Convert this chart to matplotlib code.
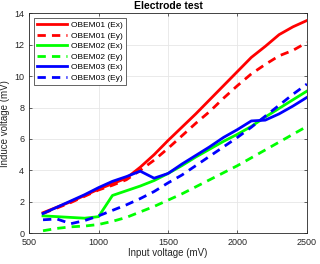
import matplotlib.pyplot as plt
import numpy as np

input_mv = [600, 700, 800, 900, 1000, 1100, 1200, 1300, 1400, 1500,
            1600, 1700, 1800, 1900, 2000, 2100, 2200, 2300, 2400, 2500]

obem01_ex = [1.3, 1.65, 2.0, 2.4, 2.8, 3.15, 3.5, 4.2, 5.0, 5.9,
             6.75, 7.6, 8.5, 9.4, 10.3, 11.2, 11.9, 12.65, 13.15, 13.55]
obem01_ey = [1.25, 1.6, 1.95, 2.35, 2.75, 3.05, 3.4, 4.0, 4.65, 5.4,
             6.2, 7.0, 7.75, 8.6, 9.4, 10.15, 10.75, 11.3, 11.65, 12.15]
obem02_ex = [1.1, 1.05, 1.0, 0.95, 1.05, 2.4, 2.7, 3.0, 3.35, 3.8,
             4.3, 4.85, 5.35, 5.85, 6.3, 6.8, 7.4, 7.95, 8.5, 9.05]
obem02_ey = [0.15, 0.3, 0.4, 0.45, 0.55, 0.75, 1.0, 1.35, 1.7, 2.1,
             2.5, 2.95, 3.4, 3.85, 4.3, 4.8, 5.3, 5.8, 6.3, 6.8]
obem03_ex = [1.25, 1.65, 2.05, 2.45, 2.9, 3.3, 3.6, 3.95, 3.5, 3.8,
             4.4, 4.95, 5.5, 6.1, 6.6, 7.15, 7.2, 7.6, 8.1, 8.65]
obem03_ey = [0.85, 0.9, 0.6, 0.8, 1.1, 1.45, 1.8, 2.2, 2.65, 3.2,
             3.7, 4.3, 4.9, 5.5, 6.1, 6.75, 7.45, 8.15, 8.85, 9.5]

plt.rcParams['font.family'] = ['Liberation Sans', 'DejaVu Sans']

fig = plt.figure(figsize=(3.2, 2.64), dpi=100)
ax = fig.add_axes([0.091, 0.117, 0.868, 0.832])

lw = 2.0
dash = (0, (3, 2.2))
ax.plot(input_mv, obem01_ex, color='#ff0000', lw=lw, label='OBEM01 (Ex)')
ax.plot(input_mv, obem01_ey, color='#ff0000', lw=lw, ls=dash, label='OBEM01 (Ey)')
ax.plot(input_mv, obem02_ex, color='#00ff00', lw=lw, label='OBEM02 (Ex)')
ax.plot(input_mv, obem02_ey, color='#00ff00', lw=lw, ls=dash, label='OBEM02 (Ey)')
ax.plot(input_mv, obem03_ex, color='#0000ff', lw=lw, label='OBEM03 (Ex)')
ax.plot(input_mv, obem03_ey, color='#0000ff', lw=lw, ls=dash, label='OBEM03 (Ey)')

ax.set_xlim(500, 2500)
ax.set_ylim(0, 14)
ax.set_xticks([500, 1000, 1500, 2000, 2500])
ax.set_yticks(np.arange(0, 15, 2))
ax.grid(True, color='#e6e6e6', lw=0.6)
ax.set_axisbelow(True)
ax.tick_params(direction='in', labelsize=6.5, colors='#262626', length=2.5, width=0.5,
               top=True, right=True)
for s in ax.spines.values():
    s.set_color('#262626')
    s.set_linewidth(0.6)

ax.set_title('Electrode test', fontsize=7.5, fontweight='bold', pad=3)
ax.set_xlabel('Input voltage (mV)', fontsize=7, color='#262626', labelpad=1)
ax.set_ylabel('Induce voltage (mV)', fontsize=7, color='#262626', labelpad=3)

leg = ax.legend(loc='upper left', fontsize=6, frameon=True, fancybox=False,
                edgecolor='#262626', handlelength=3.6, borderpad=0.35,
                labelspacing=0.32, handletextpad=0.5, borderaxespad=0.6,
                framealpha=1)
leg.get_frame().set_linewidth(0.5)

plt.savefig('out.png', dpi=100)
